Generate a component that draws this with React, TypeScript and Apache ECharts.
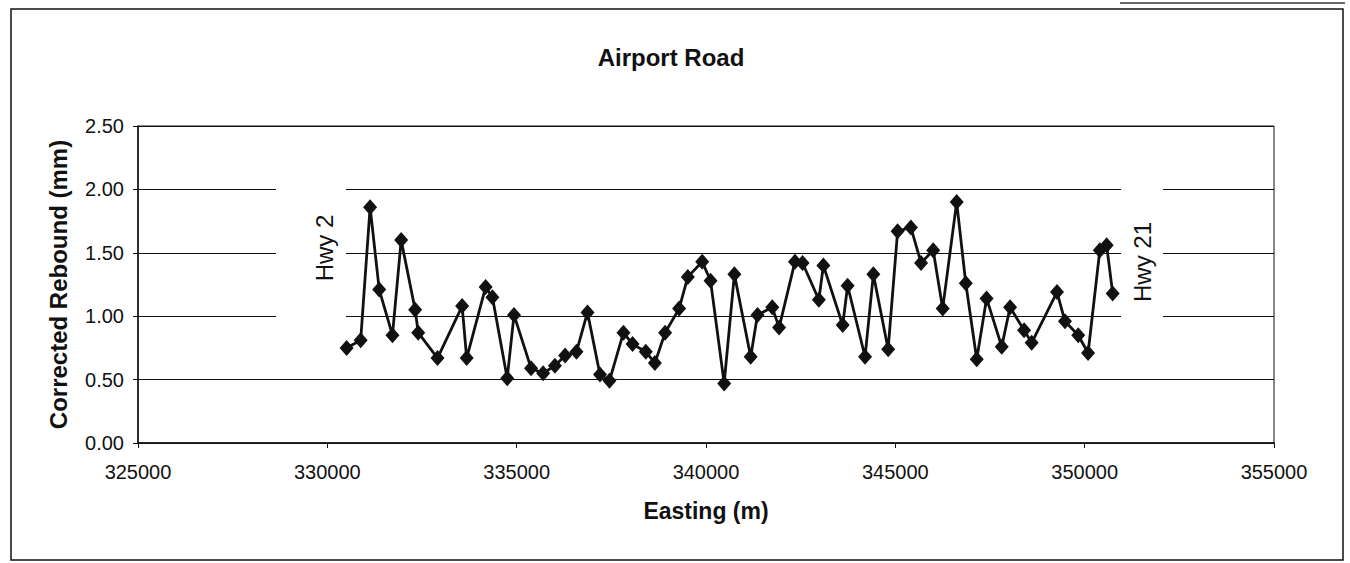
import React, { useEffect, useRef } from "react";
import * as echarts from "echarts";

const easting = [
  330510, 330880, 331130, 331370, 331720, 331950, 332320, 332400, 332910, 333560,
  333680, 334180, 334360, 334750, 334930, 335380, 335700, 336010, 336280, 336580,
  336870, 337200, 337450, 337820, 338060, 338410, 338650, 338920, 339290, 339520,
  339900, 340120, 340480, 340750, 341180, 341360, 341750, 341930, 342350, 342550,
  342980, 343100, 343610, 343740, 344200, 344420, 344810, 345060, 345410, 345680,
  346000, 346250, 346620, 346860, 347150, 347410, 347810, 348030, 348400, 348600,
  349270, 349480, 349830, 350090, 350400, 350580, 350740,
];

const rebound = [
  0.75, 0.81, 1.86, 1.21, 0.85, 1.6, 1.05, 0.87, 0.67, 1.08,
  0.67, 1.23, 1.15, 0.51, 1.01, 0.59, 0.55, 0.61, 0.69, 0.72,
  1.03, 0.54, 0.49, 0.87, 0.78, 0.72, 0.63, 0.87, 1.06, 1.31,
  1.43, 1.28, 0.47, 1.33, 0.68, 1.01, 1.07, 0.91, 1.43, 1.42,
  1.13, 1.4, 0.93, 1.24, 0.68, 1.33, 0.74, 1.67, 1.7, 1.42,
  1.52, 1.06, 1.9, 1.26, 0.66, 1.14, 0.76, 1.07, 0.89, 0.79,
  1.19, 0.96, 0.85, 0.71, 1.52, 1.56, 1.18,
];

const titleText = "Airport Road";
const xAxisName = "Easting (m)";
const yAxisName = "Corrected Rebound (mm)";
const leftLabel = "Hwy 2";
const rightLabel = "Hwy 21";

const FONT = "'Liberation Sans', Arial, Helvetica, sans-serif";

export default function App() {
  const ref = useRef<HTMLDivElement>(null);

  useEffect(() => {
    if (!ref.current) return;
    const chart = echarts.init(ref.current, null, { renderer: "svg" });
    const data = easting.map((x, i) => [x, rebound[i]]);
    chart.setOption({
      animation: false,
      backgroundColor: "#fff",
      title: {
        text: titleText,
        left: 666,
        top: 40,
        textAlign: "center",
        textStyle: { fontFamily: FONT, fontSize: 24, fontWeight: "bold", color: "#111" },
      },
      grid: {
        left: 138,
        right: 76,
        top: 126,
        bottom: 120,
        show: true,
        borderColor: "#111",
        borderWidth: 1,
        backgroundColor: "transparent",
      },
      xAxis: {
        type: "value",
        min: 325000,
        max: 355000,
        interval: 5000,
        name: xAxisName,
        nameLocation: "middle",
        nameGap: 56,
        nameTextStyle: { fontFamily: FONT, fontSize: 23, fontWeight: "bold", color: "#111" },
        axisLine: { show: true, lineStyle: { color: "#111", width: 1.5 } },
        axisTick: { show: true, length: 5, lineStyle: { color: "#111" } },
        splitLine: { show: false },
        axisLabel: {
          fontFamily: FONT,
          fontSize: 20,
          color: "#111",
          margin: 19,
          formatter: (v: number) => String(v),
        },
      },
      yAxis: {
        type: "value",
        min: 0,
        max: 2.5,
        interval: 0.5,
        name: yAxisName,
        nameLocation: "middle",
        nameGap: 68,
        nameTextStyle: { fontFamily: FONT, fontSize: 24, fontWeight: "bold", color: "#111" },
        axisLine: { show: true, lineStyle: { color: "#111", width: 1.5 } },
        axisTick: { show: true, length: 5, lineStyle: { color: "#111" } },
        splitLine: { show: true, lineStyle: { color: "#111", width: 1 } },
        axisLabel: {
          fontFamily: FONT,
          fontSize: 20,
          color: "#111",
          margin: 14,
          formatter: (v: number) => v.toFixed(2),
        },
      },
      graphic: [
        {
          type: "rect",
          z: 1,
          shape: { x: 11, y: 9, width: 1332, height: 551 },
          style: { fill: "none", stroke: "#111", lineWidth: 1.5 },
          silent: true,
        },
        {
          type: "line",
          z: 1,
          shape: { x1: 1120, y1: 3, x2: 1345, y2: 3 },
          style: { stroke: "#333", lineWidth: 1.5 },
          silent: true,
        },
        {
          type: "rect",
          z: 1,
          shape: { x: 276, y: 178, width: 70, height: 146 },
          style: { fill: "#fff" },
          silent: true,
        },
        {
          type: "rect",
          z: 1,
          shape: { x: 1121, y: 182, width: 42, height: 146 },
          style: { fill: "#fff" },
          silent: true,
        },
        {
          type: "text",
          z: 2,
          x: 324,
          y: 248,
          rotation: Math.PI / 2,
          style: {
            text: leftLabel,
            fontFamily: FONT,
            fontSize: 24,
            fill: "#111",
            align: "center",
            verticalAlign: "middle",
          },
          silent: true,
        },
        {
          type: "text",
          z: 2,
          x: 1142,
          y: 262,
          rotation: Math.PI / 2,
          style: {
            text: rightLabel,
            fontFamily: FONT,
            fontSize: 24,
            fill: "#111",
            align: "center",
            verticalAlign: "middle",
          },
          silent: true,
        },
      ],
      series: [
        {
          type: "line",
          data,
          z: 3,
          symbol: "diamond",
          symbolSize: [14, 16],
          showAllSymbol: true,
          lineStyle: { color: "#111", width: 2.8 },
          itemStyle: { color: "#111" },
        },
      ],
    });
    return () => chart.dispose();
  }, []);

  return (
    <div
      ref={ref}
      style={{ position: "absolute", left: 0, top: 0, width: 1350, height: 563 }}
    />
  );
}
